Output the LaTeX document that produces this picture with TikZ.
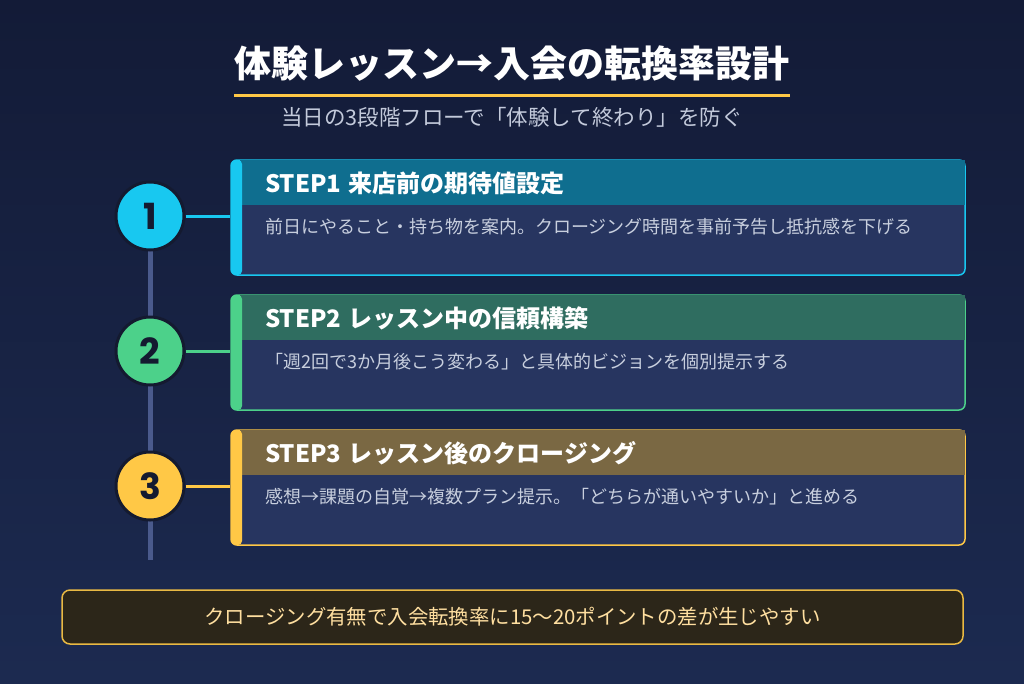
\documentclass[tikz,border=0pt]{standalone}
\usepackage{fontspec}
\setmainfont{Noto Sans CJK JP}
\newfontfamily\numfont{Poppins}
\definecolor{bgtop}{HTML}{131B37}
\definecolor{bgbot}{HTML}{1C2A50}
\definecolor{bodyc}{HTML}{273560}
\definecolor{darkc}{HTML}{141A30}
\definecolor{railc}{HTML}{4A5A8C}
\definecolor{acA}{HTML}{18C8F0}
\definecolor{hdA}{HTML}{0F6E8F}
\definecolor{acB}{HTML}{4CD18A}
\definecolor{hdB}{HTML}{2F6D60}
\definecolor{acC}{HTML}{FFC846}
\definecolor{hdC}{HTML}{7A6843}
\definecolor{subc}{HTML}{C3CADB}
\definecolor{txtc}{HTML}{C8CFDE}
\definecolor{notefill}{HTML}{2C2619}
\definecolor{noteline}{HTML}{E9B943}
\definecolor{notetext}{HTML}{FFDFA0}
\tikzset{
  numcircle/.style={circle, draw=darkc, line width=3pt, minimum size=68pt, inner sep=0pt,
    font=\numfont\bfseries\fontsize{36}{36}\selectfont, text=darkc},
  cardbox/.style={rectangle, rounded corners=6pt, minimum width=734pt, minimum height=115pt,
    inner sep=0pt, fill=bodyc, line width=1.5pt},
  hdtext/.style={anchor=west, inner sep=0pt, text=white, font=\bfseries\fontsize{24}{27}\selectfont},
  bdtext/.style={anchor=west, inner sep=0pt, text=txtc, font=\fontsize{18}{21}\selectfont},
  link/.style={line width=3pt},
}
\newcommand\mkstep[7]{%
  % #1 top y, #2 accent, #3 header colour, #4 number, #5 title, #6 body, #7 id
  \node[cardbox, draw=#2] (k#7) at (598, #1+57.5) {};
  \fill[#3] (240,#1) rectangle (965,#1+45);
  \fill[#2, rounded corners=4pt] (231,#1) rectangle (242,#1+115);
  \node[hdtext] (t#7) at (265,#1+23) {#5};
  \node[bdtext] (b#7) at (265,#1+67) {#6};
  \node[numcircle, fill=#2] (c#7) at (150,#1+56) {#4};
  \draw[link, #2] (c#7.east) -- (c#7.east -| k#7.west);
}
\begin{document}
\begin{tikzpicture}[x=1pt,y=-1pt]
\useasboundingbox (0,0) rectangle (1024,683);
\shade[top color=bgtop, bottom color=bgbot] (0,0) rectangle (1024,683);
% title
\node[inner sep=0pt, text=white, font=\bfseries\fontsize{37}{40}\selectfont] (title) at (512,64) {体験レッスン→入会の転換率設計};
\coordinate (ulA) at (234,95);
\coordinate (ulB) at (790,95);
\draw[acC, line width=3pt] (ulA) -- (ulB);
\node[inner sep=0pt, text=subc, font=\fontsize{21.5}{24}\selectfont] (sub) at (512,117) {当日の3段階フローで「体験して終わり」を防ぐ};
% rail
\coordinate (railtop) at (150,216);
\coordinate (railbot) at (150,560);
\draw[railc, line width=5pt] (railtop) -- (railbot);
% steps
\mkstep{160}{acA}{hdA}{1}{STEP1\hspace{0.3em}来店前の期待値設定}{前日にやること・持ち物を案内。クロージング時間を事前予告し抵抗感を下げる}{1}
\mkstep{295}{acB}{hdB}{2}{STEP2\hspace{0.3em}レッスン中の信頼構築}{「週2回で3か月後こう変わる」と具体的ビジョンを個別提示する}{2}
\mkstep{430}{acC}{hdC}{3}{STEP3\hspace{0.3em}レッスン後のクロージング}{感想→課題の自覚→複数プラン提示。「どちらが通いやすいか」と進める}{3}
% note
\node[rectangle, rounded corners=8pt, fill=notefill, draw=noteline, line width=1.5pt,
  minimum width=901pt, minimum height=54pt, text=notetext,
  font=\fontsize{20.4}{24}\selectfont] (note) at (512.5,617) {クロージング有無で入会転換率に15〜20ポイントの差が生じやすい};
\end{tikzpicture}
\end{document}
